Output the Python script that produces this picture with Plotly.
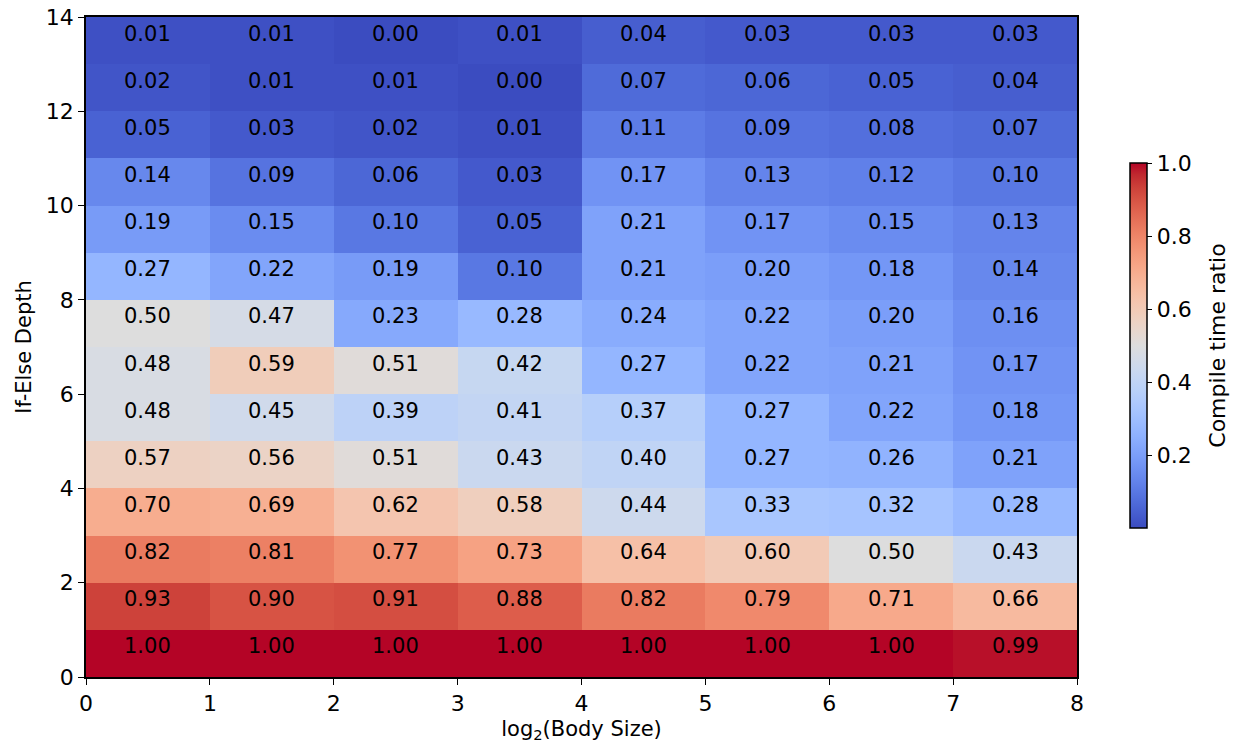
import plotly.graph_objects as go

# Column edges: log2(Body Size), row edges: If-Else Depth
x_edges = [0, 1, 2, 3, 4, 5, 6, 7, 8]
y_edges = list(range(15))

# Rows from depth 0-1 (bottom) to 13-14 (top)
ratio_rows = [
    [1.00, 1.00, 1.00, 1.00, 1.00, 1.00, 1.00, 0.99],
    [0.93, 0.90, 0.91, 0.88, 0.82, 0.79, 0.71, 0.66],
    [0.82, 0.81, 0.77, 0.73, 0.64, 0.60, 0.50, 0.43],
    [0.70, 0.69, 0.62, 0.58, 0.44, 0.33, 0.32, 0.28],
    [0.57, 0.56, 0.51, 0.43, 0.40, 0.27, 0.26, 0.21],
    [0.48, 0.45, 0.39, 0.41, 0.37, 0.27, 0.22, 0.18],
    [0.48, 0.59, 0.51, 0.42, 0.27, 0.22, 0.21, 0.17],
    [0.50, 0.47, 0.23, 0.28, 0.24, 0.22, 0.20, 0.16],
    [0.27, 0.22, 0.19, 0.10, 0.21, 0.20, 0.18, 0.14],
    [0.19, 0.15, 0.10, 0.05, 0.21, 0.17, 0.15, 0.13],
    [0.14, 0.09, 0.06, 0.03, 0.17, 0.13, 0.12, 0.10],
    [0.05, 0.03, 0.02, 0.01, 0.11, 0.09, 0.08, 0.07],
    [0.02, 0.01, 0.01, 0.00, 0.07, 0.06, 0.05, 0.04],
    [0.01, 0.01, 0.00, 0.01, 0.04, 0.03, 0.03, 0.03],
]

coolwarm_rgb = [
    (59, 76, 192), (68, 90, 204), (77, 104, 215), (87, 117, 225), (98, 130, 234),
    (108, 142, 241), (119, 154, 247), (130, 165, 251), (141, 176, 254),
    (152, 185, 255), (163, 194, 255), (174, 201, 253), (184, 208, 249),
    (194, 213, 244), (204, 217, 238), (213, 219, 230), (221, 221, 221),
    (229, 216, 209), (236, 211, 197), (241, 204, 184), (245, 196, 173),
    (247, 187, 160), (247, 177, 148), (247, 166, 135), (244, 154, 123),
    (241, 141, 111), (236, 127, 99), (229, 112, 88), (222, 96, 77),
    (213, 80, 66), (203, 62, 56), (192, 40, 47), (180, 4, 38),
]
n = len(coolwarm_rgb) - 1
coolwarm = [[i / n, "rgb(%d,%d,%d)" % c] for i, c in enumerate(coolwarm_rgb)]

FONT = "DejaVu Sans"

fig = go.Figure(
    go.Heatmap(
        x=x_edges,
        y=y_edges,
        z=ratio_rows,
        zmin=0,
        zmax=1,
        colorscale=coolwarm,
        hoverinfo="skip",
        colorbar=dict(
            x=1.0535, xanchor="left", xref="paper",
            y=0.502, yanchor="middle",
            len=0.553, lenmode="fraction",
            thickness=17, xpad=0, ypad=0,
            outlinewidth=1.5, outlinecolor="black",
            tickvals=[0.2, 0.4, 0.6, 0.8, 1.0],
            ticktext=["0.2", "0.4", "0.6", "0.8", "1.0"],
            ticks="outside", ticklen=5, tickwidth=1.2, tickcolor="black",
            tickfont=dict(family=FONT, size=22, color="black"),
        ),
    )
)

# Cell value labels (slightly above cell centre, as in the reference)
annotations = []
for r, row in enumerate(ratio_rows):
    for c, v in enumerate(row):
        annotations.append(dict(
            x=(x_edges[c] + x_edges[c + 1]) / 2,
            y=(y_edges[r] + y_edges[r + 1]) / 2,
            xref="x", yref="y", text="%.2f" % v, showarrow=False,
            yshift=7, font=dict(family=FONT, size=21, color="black"),
        ))

# Colorbar title
annotations.append(dict(
    x=1.1423, y=0.502, xref="paper", yref="paper", text="Compile time ratio",
    textangle=-90, showarrow=False, xanchor="center", yanchor="middle",
    font=dict(family=FONT, size=22, color="black"),
))

fig.update_layout(
    width=1236,
    height=748,
    margin=dict(l=86, r=159, t=17, b=71, autoexpand=False),
    paper_bgcolor="white",
    plot_bgcolor="white",
    font=dict(family=FONT, size=22, color="black"),
    annotations=annotations,
    xaxis=dict(
        range=[0, 8], tickvals=list(range(9)), ticks="outside", ticklen=6,
        tickwidth=1.2, tickcolor="black", showline=True, linecolor="black",
        linewidth=1.5, mirror=True, showgrid=False, zeroline=False,
        automargin=False,
        title=dict(text="log<sub>2</sub>(Body Size)", font=dict(size=21), standoff=6),
        tickfont=dict(size=22),
    ),
    yaxis=dict(
        range=[0, 14], tickvals=list(range(0, 15, 2)), ticks="outside", ticklen=6,
        tickwidth=1.2, tickcolor="black", showline=True, linecolor="black",
        linewidth=1.5, mirror=True, showgrid=False, zeroline=False,
        automargin=False,
        title=dict(text="If-Else Depth", font=dict(size=21), standoff=8),
        tickfont=dict(size=22),
    ),
)

fig.write_html("out.html")
